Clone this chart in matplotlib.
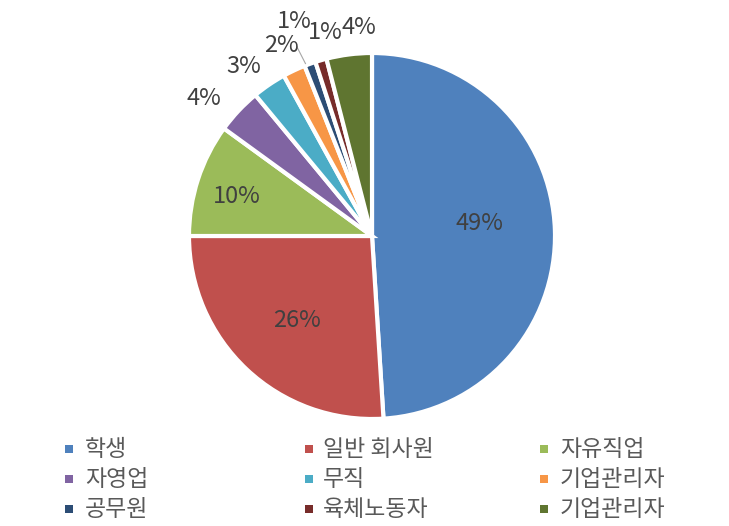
import numpy as np
import matplotlib
matplotlib.use("Agg")
import matplotlib.pyplot as plt
from matplotlib.patches import Rectangle

plt.rcParams['font.family'] = ['Noto Sans CJK KR', 'DejaVu Sans']

categories = ['학생', '일반 회사원', '자유직업', '자영업', '무직', '기업관리자',
              '공무원', '육체노동자', '기업관리자']
values = [49, 26, 10, 4, 3, 2, 1, 1, 4]
pct_labels = ['49%', '26%', '10%', '4%', '3%', '2%', '1%', '1%', '4%']
colors = ['#4F81BD', '#C0504D', '#9BBB59', '#8064A2', '#4BACC6', '#F79646',
          '#2C4D75', '#772C2A', '#5F7530']
# label placement style: radial distance and angular nudge (degrees)
label_dist = [0.59, 0.62, 0.77, 1.185, 1.163, 1.156, 1.25, 1.144, 1.144]
label_nudge = [5.1, 1.7, 1.9, 4.0, 2.8, 0.3, 0.2, -3.2, -3.6]

W, H = 729, 526
fig = plt.figure(figsize=(W / 100, H / 100), dpi=100)
cx, cy, R = 372, 236, 183
ax = fig.add_axes([(cx - R) / W, (H - cy - R) / H, 2 * R / W, 2 * R / H])
wedges, _ = ax.pie(values, colors=colors, startangle=90, counterclock=False,
                   radius=1.0, wedgeprops=dict(edgecolor='white', linewidth=3))
ax.set_xlim(-1, 1)
ax.set_ylim(-1, 1)
ax.set_aspect('equal')
ax.axis('off')

tc = '#404040'
total = sum(values)
cum = 0
for i, v in enumerate(values):
    mid = 90 - (cum + v / 2) / total * 360
    cum += v
    a = np.deg2rad(mid + label_nudge[i])
    d = label_dist[i]
    x, y = d * np.cos(a), d * np.sin(a)
    if i == 6:
        # leader line from label to its slice
        e = np.deg2rad(mid + 1.3)
        ax.plot([-0.41, 1.01 * np.cos(e)], [1.033, 1.01 * np.sin(e)],
                color='#A6A6A6', lw=0.8, clip_on=False)
    ax.text(x, y, pct_labels[i], ha='center', va='center', fontsize=17,
            color=tc, clip_on=False)

# legend
mark_x = [69, 309, 544]
text_x = [85, 323, 560]
row_y = [449, 479, 509]
for i, name in enumerate(categories):
    c, r = i % 3, i // 3
    mx, my = mark_x[c], row_y[r]
    fig.patches.append(Rectangle(((mx - 4) / W, (H - my - 4) / H), 8 / W, 8 / H,
                                 transform=fig.transFigure, facecolor=colors[i],
                                 edgecolor='none'))
    fig.text(text_x[c] / W, (H - my) / H, name, ha='left', va='center',
             fontsize=16.5, color='#595959')

fig.savefig('out.png', dpi=100, facecolor='white')
